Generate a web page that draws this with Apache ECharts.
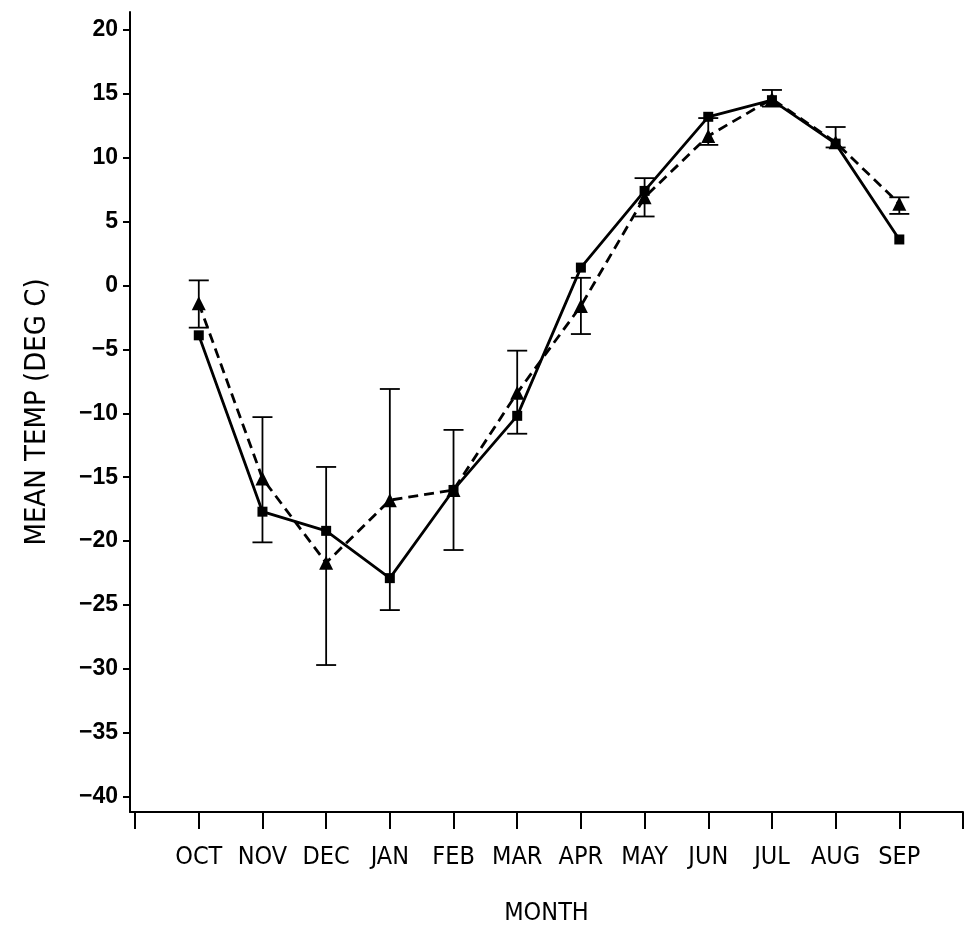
<!DOCTYPE html>
<html>
<head>
<meta charset="utf-8">
<script src="https://cdn.jsdelivr.net/npm/echarts@6/dist/echarts.min.js"></script>
<style>html,body{margin:0;padding:0;background:#fff}#c{width:966px;height:942px}</style>
</head>
<body>
<div id="c"></div>
<script>
// Data
var months = ['OCT','NOV','DEC','JAN','FEB','MAR','APR','MAY','JUN','JUL','AUG','SEP'];
var monthPos = [1,2,3,4,5,6,7,8,9,10,11,12];
var xTicks = [0,1,2,3,4,5,6,7,8,9,10,11,12,13];
var yTicks = [-40,-35,-30,-25,-20,-15,-10,-5,0,5,10,15,20];
var solidSquares = [-3.9,-17.7,-19.2,-22.9,-16.0,-10.2,1.4,7.4,13.2,14.5,11.1,3.6];
var dashedTriangles = [-1.4,-15.1,-21.7,-16.8,-16.0,-8.4,-1.6,6.9,11.7,14.6,11.2,6.4];
var errLow = [-3.3,-20.1,-29.7,-25.4,-20.7,-11.6,-3.8,5.4,11.0,14.0,10.8,5.6];
var errHigh = [0.4,-10.3,-14.2,-8.1,-11.3,-5.1,0.6,8.4,13.1,15.3,12.4,6.9];

var FONT = "'DejaVu Sans Condensed','Liberation Sans Narrow',sans-serif";
var chart = echarts.init(document.getElementById('c'));

var solidData = monthPos.map(function(x,i){return [x, solidSquares[i]];});
var dashData = monthPos.map(function(x,i){return [x, dashedTriangles[i]];});
var errData = monthPos.map(function(x,i){return [x, errLow[i], errHigh[i]];});

chart.setOption({
  animation:false,
  backgroundColor:'#fff',
  grid:{left:130,right:3,top:12,bottom:130,containLabel:false},
  xAxis:{
    type:'value', min:-0.08, max:13,
    name:'MONTH', nameLocation:'middle', nameGap:89,
    nameTextStyle:{color:'#000',fontFamily:FONT,fontSize:25,fontWeight:'normal'},
    axisLine:{show:true,onZero:false,lineStyle:{color:'#000',width:2}},
    axisTick:{show:true,customValues:xTicks,length:17,inside:false,lineStyle:{color:'#000',width:2}},
    axisLabel:{show:true,customValues:monthPos,margin:33,color:'#000',fontFamily:FONT,fontSize:25,fontWeight:'normal',
      formatter:function(v){var i=Math.round(v)-1;return months[i]||'';}},
    splitLine:{show:false}
  },
  yAxis:{
    type:'value', min:-41.2, max:21.4,
    name:'MEAN TEMP (DEG C)', nameLocation:'middle', nameGap:78, nameRotate:90,
    nameTextStyle:{color:'#000',fontFamily:FONT,fontSize:29,fontWeight:'normal'},
    axisLine:{show:true,onZero:false,lineStyle:{color:'#000',width:2}},
    axisTick:{show:true,customValues:yTicks,length:7,inside:false,lineStyle:{color:'#000',width:2}},
    axisLabel:{show:true,customValues:yTicks,margin:12,color:'#000',fontFamily:"'Liberation Sans',sans-serif",fontSize:23,fontWeight:'bold',
      formatter:function(v){return v<0?('\u2212'+Math.abs(v)):String(v);}},
    splitLine:{show:false}
  },
  series:[
    {
      type:'custom',
      data:errData,
      z:1,
      renderItem:function(params,api){
        var x=api.value(0);
        var lo=api.coord([x,api.value(1)]);
        var hi=api.coord([x,api.value(2)]);
        var hw=10;
        var st={stroke:'#000',lineWidth:1.8};
        return {type:'group',children:[
          {type:'line',shape:{x1:lo[0],y1:lo[1],x2:hi[0],y2:hi[1]},style:st},
          {type:'line',shape:{x1:lo[0]-hw,y1:lo[1],x2:lo[0]+hw,y2:lo[1]},style:st},
          {type:'line',shape:{x1:hi[0]-hw,y1:hi[1],x2:hi[0]+hw,y2:hi[1]},style:st}
        ]};
      }
    },
    {
      type:'line', data:dashData, z:2,
      symbol:'triangle', symbolSize:14,
      lineStyle:{color:'#000',width:2.8,type:[10,6]},
      itemStyle:{color:'#000'}
    },
    {
      type:'line', data:solidData, z:3,
      symbol:'rect', symbolSize:10,
      lineStyle:{color:'#000',width:2.8,type:'solid'},
      itemStyle:{color:'#000'}
    }
  ]
});
</script>
</body>
</html>
